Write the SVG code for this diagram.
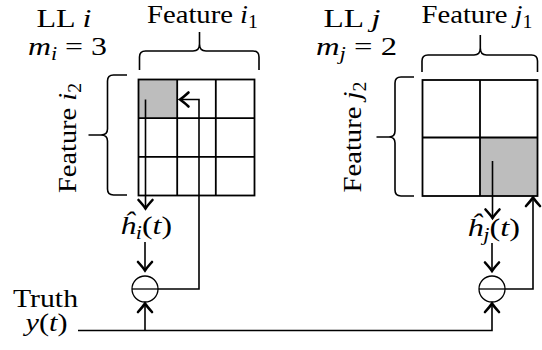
<svg xmlns="http://www.w3.org/2000/svg" width="542" height="350" viewBox="0 0 542 350">
<defs>
<style>
text{font-family:"Liberation Serif","DejaVu Serif","Noto Serif",serif;font-size:26px;fill:#000}
.it{font-style:italic}
.sub{font-size:18px}
.grid{fill:none;stroke:#000;stroke-width:1.8}
.cellg{fill:#bdbdbd;stroke:none}
.brace{fill:none;stroke:#000;stroke-width:1.6;stroke-linejoin:round}
.con{fill:none;stroke:#000;stroke-width:1.6}
.op{fill:#fff;stroke:#000;stroke-width:1.3}
</style>
<marker id="ah" markerUnits="userSpaceOnUse" markerWidth="20" markerHeight="20" viewBox="-12 -10 14 20" refX="0" refY="0" orient="auto">
<path d="M-8.5,-7 Q-3,-2 0,0 Q-3,2 -8.5,7" fill="none" stroke="#000" stroke-width="2.6" stroke-linecap="round"/>
</marker>
</defs>

<g id="ll-i-title">
<text x="64" y="27" text-anchor="middle" textLength="55" lengthAdjust="spacingAndGlyphs">LL <tspan class="it">i</tspan></text>
<text x="67.5" y="55" text-anchor="middle" textLength="79" lengthAdjust="spacingAndGlyphs"><tspan class="it">m</tspan><tspan class="it sub" dy="5">i</tspan><tspan dy="-5"> = 3</tspan></text>
</g>

<g id="ll-j-title">
<text x="352" y="27" text-anchor="middle" textLength="57" lengthAdjust="spacingAndGlyphs">LL <tspan class="it">j</tspan></text>
<text x="356.5" y="55" text-anchor="middle" textLength="81" lengthAdjust="spacingAndGlyphs"><tspan class="it">m</tspan><tspan class="it sub" dy="5">j</tspan><tspan dy="-5"> = 2</tspan></text>
</g>

<g id="grid-i">
<rect class="cellg" x="138.5" y="79.5" width="38.7" height="38.7"/>
<rect class="grid" x="138.5" y="79.5" width="116" height="116"/>
<path class="grid" d="M177.2,79.5V195.5M215.8,79.5V195.5M138.5,118.2H254.5M138.5,156.8H254.5"/>
</g>

<g id="grid-j">
<rect class="cellg" x="480" y="137.5" width="57.5" height="58.5"/>
<rect class="grid" x="422.5" y="80" width="115" height="116"/>
<path class="grid" d="M480,80V196M422.5,137.5H537.5"/>
</g>

<g id="brace-i1">
<path class="brace" d="M139.5,70V57Q139.5,51 145.5,51H193Q199.5,51 199.5,44V32M199.5,44Q199.5,51 206,51H253Q259,51 259,57V70"/>
<text x="202.5" y="23" text-anchor="middle" textLength="111" lengthAdjust="spacingAndGlyphs">Feature <tspan class="it">i</tspan><tspan class="sub" dy="5">1</tspan></text>
</g>

<g id="brace-i2">
<path class="brace" d="M127,75H113.5Q107.5,75 107.5,81V129Q107.5,135 101,135H88.5M101,135Q107.5,135 107.5,141V189Q107.5,195 113.5,195H127"/>
<text transform="translate(76,138) rotate(-90)" text-anchor="middle" textLength="110" lengthAdjust="spacingAndGlyphs">Feature <tspan class="it">i</tspan><tspan class="sub" dy="5">2</tspan></text>
</g>

<g id="brace-j1">
<path class="brace" d="M422,72V61Q422,55 428,55H474Q480.3,55 480.3,48V35M480.3,48Q480.3,55 486.5,55H531.5Q537.5,55 537.5,61V72"/>
<text x="477" y="23" text-anchor="middle" textLength="111" lengthAdjust="spacingAndGlyphs">Feature <tspan class="it">j</tspan><tspan class="sub" dy="5">1</tspan></text>
</g>

<g id="brace-j2">
<path class="brace" d="M414,77H401Q395,77 395,83V131Q395,137 389,137H376.5M389,137Q395,137 395,143V190Q395,196 401,196H414"/>
<text transform="translate(361,137) rotate(-90)" text-anchor="middle" textLength="111" lengthAdjust="spacingAndGlyphs">Feature <tspan class="it">j</tspan><tspan class="sub" dy="5">2</tspan></text>
</g>

<g id="label-hi">
<text x="146" y="234" text-anchor="middle" textLength="52" lengthAdjust="spacingAndGlyphs"><tspan class="it">ĥ</tspan><tspan class="it sub" dy="5">i</tspan><tspan dy="-5">(</tspan><tspan class="it">t</tspan>)</text>
</g>

<g id="label-hj">
<text x="493.5" y="236" text-anchor="middle" textLength="53" lengthAdjust="spacingAndGlyphs"><tspan class="it">ĥ</tspan><tspan class="it sub" dy="5">j</tspan><tspan dy="-5">(</tspan><tspan class="it">t</tspan>)</text>
</g>

<g id="truth">
<text x="45.5" y="307" text-anchor="middle" textLength="65" lengthAdjust="spacingAndGlyphs">Truth</text>
<text x="46.5" y="331" text-anchor="middle" textLength="42" lengthAdjust="spacingAndGlyphs"><tspan class="it">y</tspan>(<tspan class="it">t</tspan>)</text>
</g>

<g id="op-i">
<circle class="op" cx="145" cy="289" r="13"/>
<path class="op" d="M132,289H158"/>
</g>

<g id="op-j">
<circle class="op" cx="492" cy="289" r="13"/>
<path class="op" d="M479,289H505"/>
</g>

<g id="connectors">
<path class="con" d="M145.5,99.5V208.5" marker-end="url(#ah)"/>
<path class="con" d="M145,242V270.5" marker-end="url(#ah)"/>
<path class="con" d="M158,289H199V99.5H180" marker-end="url(#ah)"/>
<path class="con" d="M78,330.5H492V303.5" marker-end="url(#ah)"/>
<path class="con" d="M145,330.5V303.5" marker-end="url(#ah)"/>
<path class="con" d="M492.5,161V218" marker-end="url(#ah)"/>
<path class="con" d="M492,243V271" marker-end="url(#ah)"/>
<path class="con" d="M505,289H533V197.5" marker-end="url(#ah)"/>
</g>
</svg>
